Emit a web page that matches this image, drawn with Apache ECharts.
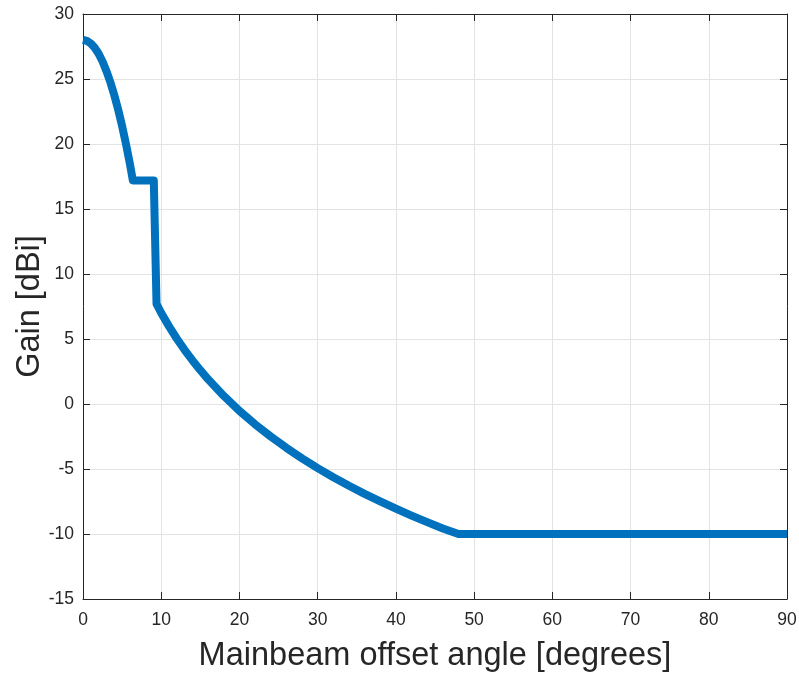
<!DOCTYPE html>
<html>
<head>
<meta charset="utf-8">
<script src="https://cdn.jsdelivr.net/npm/echarts@6/dist/echarts.min.js"></script>
<style>html,body{margin:0;padding:0;background:#fff;}#chart{width:799px;height:675px;}</style>
</head>
<body>
<div id="chart"></div>
<script>
// Data
const angles = [0, 0.5, 1, 1.5, 2, 2.5, 3, 3.5, 4, 4.5, 5, 5.5, 6, 6.37,
  9.05, 9.4, 10, 11, 12, 13, 14, 15, 16, 18, 20, 22, 24, 26, 28, 30, 32, 34, 36, 38, 40, 42, 44, 46, 48, 90];
const gains = [28, 27.93, 27.73, 27.4, 26.94, 26.34, 25.6, 24.75, 23.76, 22.63, 21.38, 19.98, 18.46, 17.2,
  17.2, 7.7, 7.0, 5.97, 5.02, 4.15, 3.35, 2.6, 1.9, 0.62, -0.53, -1.56, -2.5, -3.37, -4.18, -4.93, -5.63, -6.29, -6.91, -7.49, -8.05, -8.58, -9.09, -9.57, -10, -10];
const xTicks = [0, 10, 20, 30, 40, 50, 60, 70, 80, 90];
const yTicks = [-15, -10, -5, 0, 5, 10, 15, 20, 25, 30];
const xTitle = 'Mainbeam offset angle [degrees]';
const yTitle = 'Gain [dBi]';

const FONT = 'Liberation Sans, Arial, Helvetica, sans-serif';
const TXT = '#262626';
const chart = echarts.init(document.getElementById('chart'), null, {renderer: 'canvas'});
const axisCommon = {
  axisLine: {show: true, onZero: false, lineStyle: {color: TXT, width: 1}},
  axisTick: {show: true, inside: true, length: 7, lineStyle: {color: TXT, width: 1}},
};
chart.setOption({
  animation: false,
  backgroundColor: '#fff',
  grid: {left: 83, right: 12, top: 14, bottom: 76, containLabel: false, outerBoundsMode: 'none'},
  xAxis: [
    Object.assign({
      type: 'value', min: xTicks[0], max: xTicks[xTicks.length - 1], interval: 10,
      position: 'bottom',
      name: xTitle, nameLocation: 'middle', nameGap: 41, nameMoveOverlap: false,
      nameTextStyle: {fontFamily: FONT, fontSize: 32.5, color: TXT},
      axisLabel: {fontFamily: FONT, fontSize: 17.5, color: TXT, margin: 12},
      splitLine: {show: true, lineStyle: {color: '#e3e3e3', width: 1}}
    }, axisCommon),
    Object.assign({
      type: 'value', min: xTicks[0], max: xTicks[xTicks.length - 1], interval: 10,
      position: 'top', axisLabel: {show: false}, splitLine: {show: false}
    }, axisCommon)
  ],
  yAxis: [
    Object.assign({
      type: 'value', min: yTicks[0], max: yTicks[yTicks.length - 1], interval: 5,
      position: 'left',
      name: yTitle, nameLocation: 'middle', nameGap: 36, nameRotate: 90, nameMoveOverlap: false,
      nameTextStyle: {fontFamily: FONT, fontSize: 32.5, color: TXT},
      axisLabel: {fontFamily: FONT, fontSize: 17.5, color: TXT, margin: 9},
      splitLine: {show: true, lineStyle: {color: '#e3e3e3', width: 1}}
    }, axisCommon),
    Object.assign({
      type: 'value', min: yTicks[0], max: yTicks[yTicks.length - 1], interval: 5,
      position: 'right', axisLabel: {show: false}, splitLine: {show: false}
    }, axisCommon)
  ],
  series: [{
    type: 'line',
    data: angles.map((a, i) => [a, gains[i]]),
    showSymbol: false,
    smooth: false,
    clip: false,
    lineStyle: {color: '#0072BD', width: 8, join: 'round', cap: 'butt'}
  }]
});
</script>
</body>
</html>
